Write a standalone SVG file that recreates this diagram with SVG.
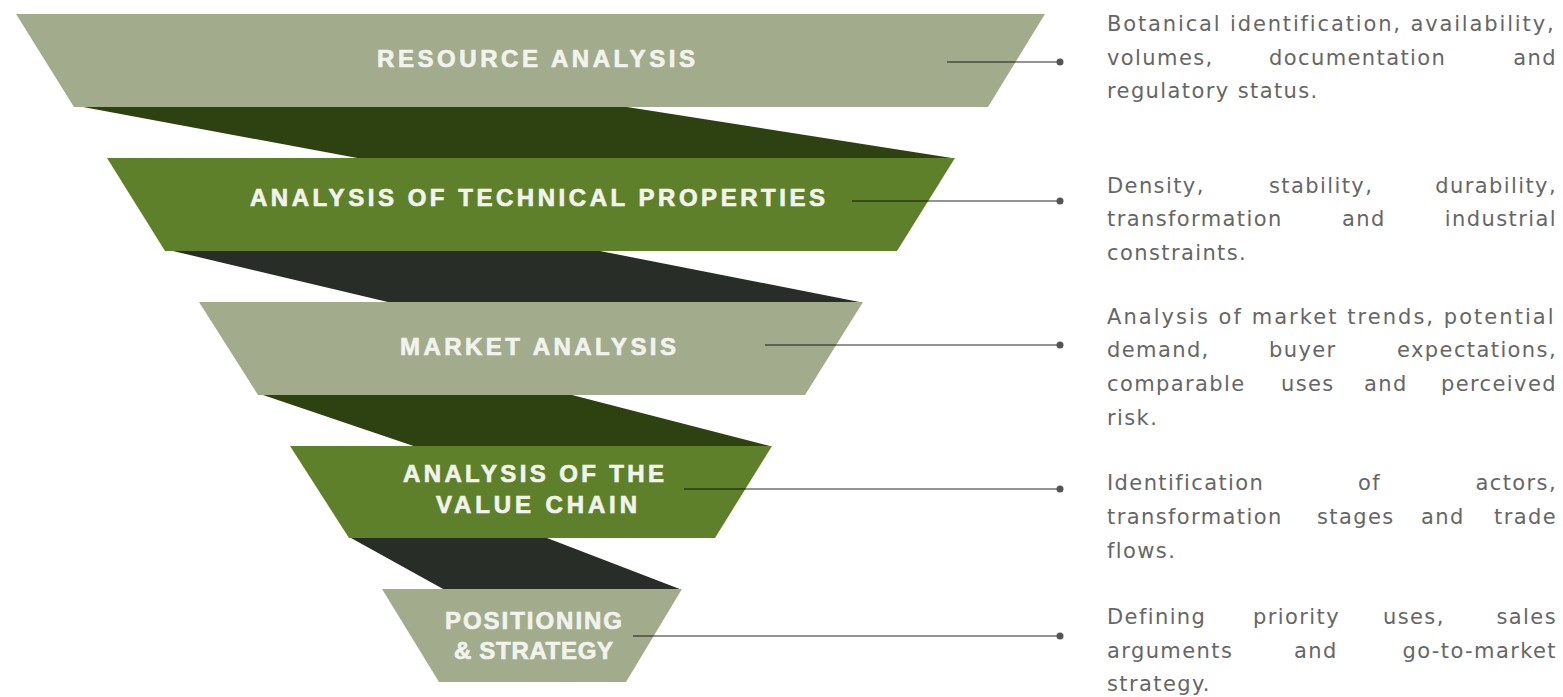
<svg xmlns="http://www.w3.org/2000/svg" width="1563" height="697" viewBox="0 0 1563 697">
<style>
.sage{fill:#a2ab8c}
.green{fill:#5f802b}
.dk1{fill:#2e4211}
.dk2{fill:#282e27}
.lbl{font-family:"Liberation Sans",Arial,sans-serif;font-weight:700;font-size:24px;fill:#f1f3ec;stroke:#f1f3ec;stroke-width:0.7px}
.desc{font-family:"DejaVu Sans","Liberation Sans",sans-serif;font-size:21px;fill:#666;letter-spacing:1.4px}
.end{text-anchor:end}
.conn{stroke:#000;stroke-opacity:0.42;stroke-width:2;fill:none}
.dot{fill:#555}
</style>
<rect width="1563" height="697" fill="#fff"/>
<g id="ribbons">
<polygon class="dk1" points="83,107 627,107 955,158.5 360,158.5"/>
<polygon class="dk2" points="173,251 600,251 862,302.5 390,302.5"/>
<polygon class="dk1" points="263,395 572,395 772,446.5 415,446.5"/>
<polygon class="dk2" points="351,538 547,538 681,589.5 444,589.5"/>
</g>
<g id="n1">
<polygon class="sage" points="16,14 1045,14 988,107 74,107"/>
<text class="lbl" x="377" y="67" textLength="318" lengthAdjust="spacing">RESOURCE ANALYSIS</text>
</g>
<g id="n2">
<polygon class="green" points="107,158 955,158 897,251 165,251"/>
<text class="lbl" x="250" y="206" textLength="575" lengthAdjust="spacing">ANALYSIS OF TECHNICAL PROPERTIES</text>
</g>
<g id="n3">
<polygon class="sage" points="199,302 863,302 805,395 258,395"/>
<text class="lbl" x="400" y="355" textLength="276" lengthAdjust="spacing">MARKET ANALYSIS</text>
</g>
<g id="n4">
<polygon class="green" points="290,446 772,446 715,538 349,538"/>
<text class="lbl" x="403" y="482" textLength="261" lengthAdjust="spacing">ANALYSIS OF THE</text>
<text class="lbl" x="436" y="513" textLength="201" lengthAdjust="spacing">VALUE CHAIN</text>
</g>
<g id="n5">
<polygon class="sage" points="382,589 682,589 626,682 439,682"/>
<text class="lbl" x="445" y="629" textLength="177" lengthAdjust="spacing">POSITIONING</text>
<text class="lbl" x="454" y="659" textLength="159" lengthAdjust="spacing">&amp; STRATEGY</text>
</g>
<g id="connectors">
<line class="conn" x1="947" y1="62" x2="1060" y2="62"/>
<circle class="dot" cx="1060" cy="62" r="3.5"/>
<line class="conn" x1="852" y1="201" x2="1060" y2="201"/>
<circle class="dot" cx="1060" cy="201" r="3.5"/>
<line class="conn" x1="765" y1="345" x2="1060" y2="345"/>
<circle class="dot" cx="1060" cy="345" r="3.5"/>
<line class="conn" x1="684" y1="489" x2="1060" y2="489"/>
<circle class="dot" cx="1060" cy="489" r="3.5"/>
<line class="conn" x1="633" y1="636" x2="1060" y2="636"/>
<circle class="dot" cx="1060" cy="636" r="3.5"/>
</g>
<g id="d1">
<text class="desc" x="1107" y="31" textLength="448" lengthAdjust="spacing">Botanical identification, availability,</text>
<text class="desc" x="1107" y="65">volumes,</text>
<text class="desc" x="1269" y="65">documentation</text>
<text class="desc end" x="1557" y="65">and</text>
<text class="desc" x="1107" y="98">regulatory status.</text>
</g>
<g id="d2">
<text class="desc" x="1107" y="193">Density,</text>
<text class="desc" x="1269" y="193">stability,</text>
<text class="desc end" x="1557" y="193">durability,</text>
<text class="desc" x="1107" y="226">transformation</text>
<text class="desc" x="1342" y="226">and</text>
<text class="desc end" x="1557" y="226">industrial</text>
<text class="desc" x="1107" y="260">constraints.</text>
</g>
<g id="d3">
<text class="desc" x="1107" y="324" textLength="448" lengthAdjust="spacing">Analysis of market trends, potential</text>
<text class="desc" x="1107" y="357">demand,</text>
<text class="desc" x="1269" y="357">buyer</text>
<text class="desc end" x="1557" y="357">expectations,</text>
<text class="desc" x="1107" y="391">comparable</text>
<text class="desc" x="1281" y="391">uses</text>
<text class="desc" x="1364" y="391">and</text>
<text class="desc end" x="1557" y="391">perceived</text>
<text class="desc" x="1107" y="425">risk.</text>
</g>
<g id="d4">
<text class="desc" x="1107" y="490">Identification</text>
<text class="desc" x="1358" y="490">of</text>
<text class="desc end" x="1557" y="490">actors,</text>
<text class="desc" x="1107" y="524">transformation</text>
<text class="desc" x="1317" y="524">stages</text>
<text class="desc" x="1421" y="524">and</text>
<text class="desc end" x="1557" y="524">trade</text>
<text class="desc" x="1107" y="558">flows.</text>
</g>
<g id="d5">
<text class="desc" x="1107" y="624">Defining</text>
<text class="desc" x="1253" y="624">priority</text>
<text class="desc" x="1383" y="624">uses,</text>
<text class="desc end" x="1557" y="624">sales</text>
<text class="desc" x="1107" y="658">arguments</text>
<text class="desc" x="1294" y="658">and</text>
<text class="desc end" x="1557" y="658">go-to-market</text>
<text class="desc" x="1107" y="691">strategy.</text>
</g>
</svg>
